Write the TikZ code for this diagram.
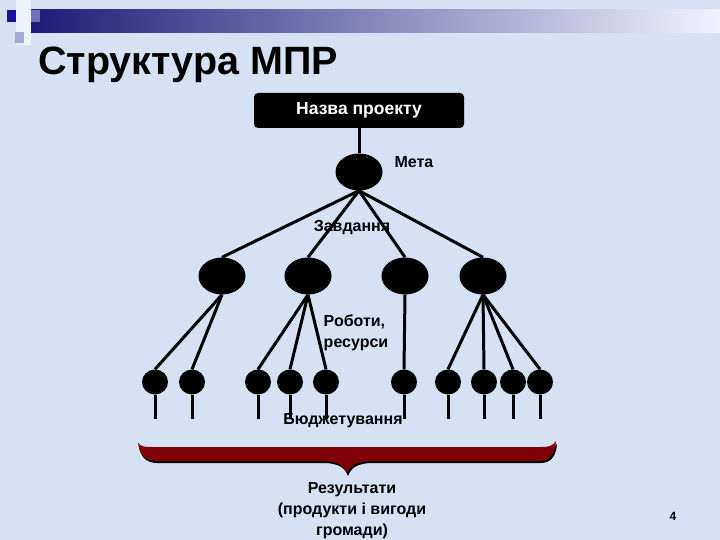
\documentclass[tikz,border=0pt]{standalone}
\usepackage{fontspec}
\setmainfont{Liberation Sans}
\usetikzlibrary{shapes.geometric}
\definecolor{bgc}{RGB}{214,226,244}
\definecolor{navy}{RGB}{28,28,120}
\definecolor{sqblue}{RGB}{20,20,160}
\definecolor{sqlav}{RGB}{150,150,210}
\definecolor{bracered}{RGB}{128,0,8}
\begin{document}
\begin{tikzpicture}[x=1pt,y=-1pt,
  bigdot/.style={ellipse, fill=black, inner sep=0, minimum width=47pt, minimum height=37pt},
  smalldot/.style={ellipse, fill=black, inner sep=0, minimum width=26pt, minimum height=25pt},
  conn/.style={line width=3pt, black},
  lbl/.style={font=\bfseries\fontsize{16}{21}\selectfont, align=center, inner sep=0, text=black}]
\useasboundingbox (0,0) rectangle (720,540);
\fill[bgc] (0,0) rectangle (720,540);
% decoration top-left
\fill[white, opacity=0.6] (16,0) rectangle (31,45);
\fill[sqblue] (7,10) rectangle (16,22);
\shade[left color=navy, right color=white!95!blue] (31,10) rectangle (720,33);
\fill[sqlav, opacity=0.7] (31,10) rectangle (40,22);
\fill[sqlav, opacity=0.8] (15,32) rectangle (24,43);
% title
\node[anchor=base west, font=\bfseries\fontsize{39.5}{42}\selectfont, inner sep=0] (title) at (38,75) {Структура МПР};
% project box
\node[rectangle, rounded corners=4pt, fill=black, minimum width=210pt, minimum height=35pt, inner sep=0,
  font=\bfseries\fontsize{17.5}{20}\selectfont, text=white] (proj) at (359,110.5) {Назва проекту};
% goal
\node[bigdot] (meta) at (359,172) {};
\node[lbl] (metalbl) at (414,162) {Мета};
% tasks
\node[bigdot] (e1) at (222,276) {};
\node[bigdot] (e2) at (308,276) {};
\node[bigdot] (e3) at (405,276) {};
\node[bigdot] (e4) at (483,276) {};
% works
\node[smalldot] (c1) at (155,382) {};
\node[smalldot] (c2) at (192,382) {};
\node[smalldot] (c3) at (258,382) {};
\node[smalldot] (c4) at (290,382) {};
\node[smalldot] (c5) at (326,382) {};
\node[smalldot] (c6) at (404,382) {};
\node[smalldot] (c7) at (448,382) {};
\node[smalldot] (c8) at (484,382) {};
\node[smalldot] (c9) at (513,382) {};
\node[smalldot] (c10) at (540,382) {};
% connectors
\draw[conn] (proj.south) -- (meta.north);
\foreach \e in {e1,e2,e3,e4} \draw[conn] (meta.south) -- (\e.north);
\foreach \c in {c1,c2} \draw[conn] (e1.south) -- (\c.north);
\foreach \c in {c3,c4,c5} \draw[conn] (e2.south) -- (\c.north);
\draw[conn] (e3.south) -- (c6.north);
\foreach \c in {c7,c8,c9,c10} \draw[conn] (e4.south) -- (\c.north);
\foreach \c in {c1,c2,c3,c4,c5,c6,c7,c8,c9,c10} \draw[conn] (\c.south) -- ++(0,24);
% labels
\node[lbl] (tasks) at (352,228) {Завдання};
\node[lbl, align=left] (works) at (356,333) {Роботи,\\ресурси};
\node[lbl] (budget) at (343,421) {Бюджетування};
% brace
\fill[black] (139,446) .. controls (142,450) and (147,450) .. (153,450) -- (543,450) .. controls (549,450) and (554,449) .. (557,444)
  .. controls (556,456) and (551,463) .. (541,463) -- (373,463) .. controls (357,463) and (351,468) .. (348,476)
  .. controls (345,468) and (339,463) .. (323,463) -- (157,463) .. controls (146,463) and (140,456) .. (139,446) -- cycle;
\fill[bracered] (138,443) .. controls (141,447) and (146,447) .. (152,447) -- (542,447) .. controls (548,447) and (553,446) .. (556,441)
  .. controls (555,453) and (550,461) .. (540,461) -- (372,461) .. controls (356,461) and (350,466) .. (347,473)
  .. controls (344,466) and (338,461) .. (322,461) -- (156,461) .. controls (145,461) and (139,453) .. (138,443) -- cycle;
% results
\node[lbl] (results) at (352,511) {Результати\\(продукти і вигоди\\громади)};
% page number
\node[font=\bfseries\fontsize{12}{14}\selectfont, inner sep=0] (page) at (673,516) {4};
\end{tikzpicture}
\end{document}
